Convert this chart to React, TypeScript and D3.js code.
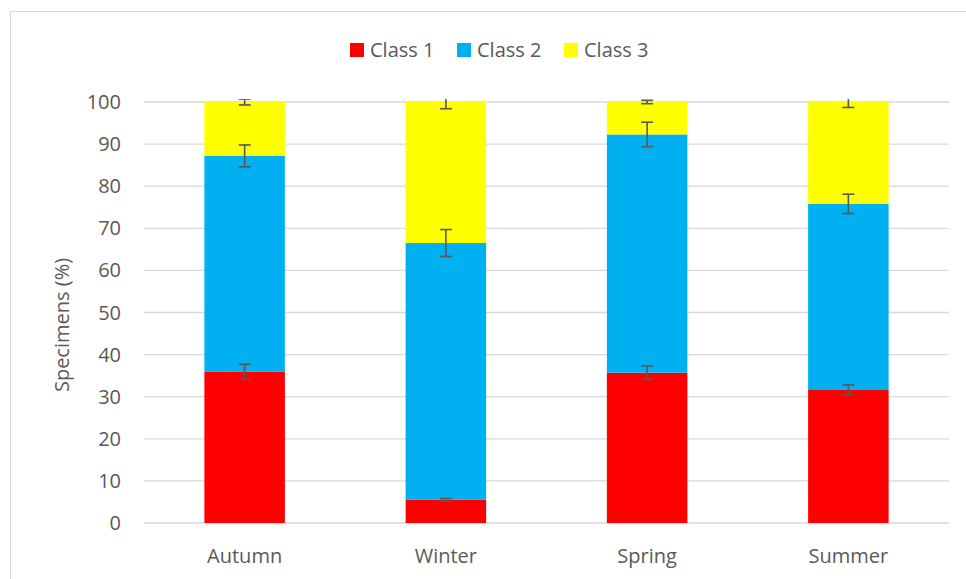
import React from "react";
import * as d3 from "d3";

const categories = ["Autumn", "Winter", "Spring", "Summer"];
const seriesNames = ["Class 1", "Class 2", "Class 3"];
const class1 = [35.9, 5.5, 35.7, 31.6];
const class2 = [51.3, 61.0, 56.6, 44.2];
const class3 = [12.8, 33.5, 7.7, 24.2];
const err1 = [1.8, 0.3, 1.6, 1.2];
const err2 = [2.6, 3.2, 2.9, 2.3];
const err3 = [0.7, 1.6, 0.4, 1.3];
const yTicks = [0, 10, 20, 30, 40, 50, 60, 70, 80, 90, 100];

const colors = ["#FF0000", "#00B0F0", "#FFFF00"];
const W = 966;
const H = 579;
const font = "'Open Sans', 'Noto Sans', sans-serif";
const textColor = "#595959";
const fs = 20;

export default function App() {
  const plot = { left: 144, right: 949, top: 102, bottom: 523 };

  const x = d3
    .scaleBand<string>()
    .domain(categories)
    .range([plot.left, plot.right])
    .padding(0);
  const barW = x.step() * 0.4;

  const y = d3.scaleLinear().domain([0, 100]).range([plot.bottom, plot.top]);

  const values = [class1, class2, class3];
  const errs = [err1, err2, err3];

  const rows = categories.map((c, i) => {
    let base = 0;
    return values.map((v, s) => {
      const y0 = base;
      const y1 = base + v[i];
      base = y1;
      return { cat: c, s, y0, y1, err: errs[s][i] };
    });
  });

  const legendX = [350, 457, 564];

  return (
    <div style={{ position: "fixed", left: 0, top: 0 }}>
      <svg width={W} height={H} style={{ display: "block", background: "#fff" }}>
        <defs>
          <clipPath id="plotClip">
            <rect x={plot.left} y={99} width={plot.right - plot.left} height={plot.bottom - 99 + 10} />
          </clipPath>
        </defs>
        <rect x={10.5} y={11.5} width={1200} height={1200} fill="none" stroke="#d9d9d9" strokeWidth={1} />

        {yTicks.map((t) => (
          <g key={t}>
            <line x1={plot.left} x2={plot.right} y1={y(t)} y2={y(t)} stroke="#d9d9d9" strokeWidth={1.3} />
            <text
              x={121}
              y={y(t)}
              dy="0.35em"
              textAnchor="end"
              fontFamily={font}
              fontSize={fs}
              fill={textColor}
            >
              {t}
            </text>
          </g>
        ))}

        {rows.map((r) =>
          r.map((d) => (
            <rect
              key={d.cat + d.s}
              x={x(d.cat)! + x.bandwidth() / 2 - barW / 2}
              y={y(d.y1)}
              width={barW}
              height={y(d.y0) - y(d.y1)}
              fill={colors[d.s]}
            />
          ))
        )}

        <g clipPath="url(#plotClip)" stroke="#595959" strokeWidth={1.6}>
          {rows.map((r) =>
            r.map((d) => {
              const cx = x(d.cat)! + x.bandwidth() / 2;
              const hi = y(d.y1 + d.err);
              const lo = y(d.y1 - d.err);
              return (
                <g key={"e" + d.cat + d.s}>
                  <line x1={cx} x2={cx} y1={hi} y2={lo} />
                  <line x1={cx - 6} x2={cx + 6} y1={hi} y2={hi} />
                  <line x1={cx - 6} x2={cx + 6} y1={lo} y2={lo} />
                </g>
              );
            })
          )}
        </g>

        {categories.map((c) => (
          <text
            key={c}
            x={x(c)! + x.bandwidth() / 2}
            y={563}
            textAnchor="middle"
            fontFamily={font}
            fontSize={fs}
            fill={textColor}
          >
            {c}
          </text>
        ))}

        <text
          transform={`translate(69, ${325}) rotate(-90)`}
          textAnchor="middle"
          fontFamily={font}
          fontSize={fs}
          fill={textColor}
        >
          Specimens (%)
        </text>

        {seriesNames.map((n, i) => (
          <g key={n}>
            <rect x={legendX[i]} y={43} width={14} height={14} fill={colors[i]} />
            <text x={legendX[i] + 20} y={50} dy="0.35em" fontFamily={font} fontSize={fs} fill={textColor}>
              {n}
            </text>
          </g>
        ))}
      </svg>
    </div>
  );
}
